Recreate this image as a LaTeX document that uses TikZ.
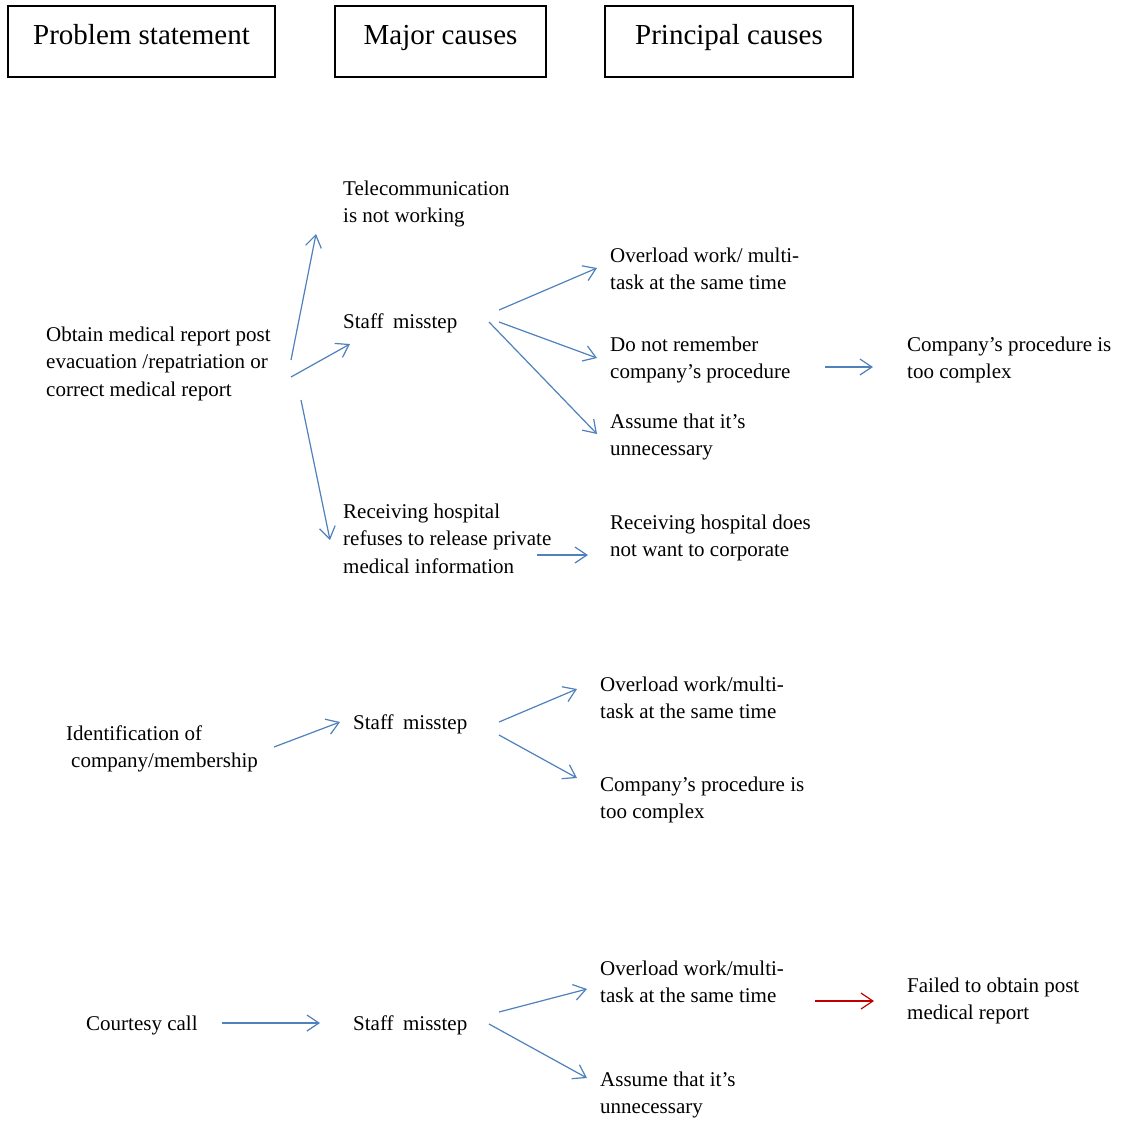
\documentclass[tikz,border=0pt]{standalone}
\usepackage{fontspec}
\setmainfont{Liberation Serif}
\usetikzlibrary{arrows.meta}
\definecolor{flowblue}{RGB}{79,129,189}
\definecolor{flowred}{RGB}{192,0,0}
\tikzset{
  headbox/.style={draw=black, line width=1.4pt, inner sep=0pt,
    font={\fontsize{29}{34}\selectfont}, text height=20pt, text depth=15pt},
  % positioned by the baseline of the last text line
  cause/.style={anchor=base west, align=left, inner sep=0pt,
    font={\fontsize{21}{27.5}\selectfont}},
  flow/.style={draw=flowblue, line width=1.2pt,
    -{Straight Barb[length=12pt,width=16pt,line width=1.2pt]}},
  badflow/.style={flow, draw=flowred}
}
\begin{document}
\begin{tikzpicture}[x=1pt,y=-1pt]
\path[use as bounding box, fill=white] (0,0) rectangle (1129,1120);

% column headings
\node[headbox, minimum width=267pt, minimum height=71pt] (hprob) at (141.5,41.5) {Problem statement};
\node[headbox, minimum width=211pt, minimum height=71pt] (hmajor) at (440.5,41.5) {Major causes};
\node[headbox, minimum width=248pt, minimum height=71pt] (hprin) at (729,41.5) {Principal causes};

% problem 1: medical report
\node[cause] (obtain) at (46,396) {Obtain medical report post\\evacuation /repatriation or\\correct medical report};
\node[cause] (telecom) at (343,222.5) {Telecommunication\\is not working};
\node[cause] (staffA) at (343,328) {Staff\hspace{0.45em}misstep};
\node[cause] (overA) at (610,289.5) {Overload work/ multi-\\task at the same time};
\node[cause] (remember) at (610,378.5) {Do not remember\\company’s procedure};
\node[cause] (assumeA) at (610,455.5) {Assume that it’s\\unnecessary};
\node[cause] (complexA) at (907,378.5) {Company’s procedure is\\too complex};
\node[cause] (refuse) at (343,573) {Receiving hospital\\refuses to release private\\medical information};
\node[cause] (nocoop) at (610,556.5) {Receiving hospital does\\not want to corporate};

% problem 2: identification
\node[cause] (ident) at (66,767.5) {Identification of\\\hspace{5pt}company/membership};
\node[cause] (staffB) at (353,729) {Staff\hspace{0.45em}misstep};
\node[cause] (overB) at (600,718.5) {Overload work/multi-\\task at the same time};
\node[cause] (complexB) at (600,818.5) {Company’s procedure is\\too complex};

% problem 3: courtesy call
\node[cause] (courtesy) at (86,1030) {Courtesy call};
\node[cause] (staffC) at (353,1030) {Staff\hspace{0.45em}misstep};
\node[cause] (overC) at (600,1002.5) {Overload work/multi-\\task at the same time};
\node[cause] (failed) at (907,1019.5) {Failed to obtain post\\medical report};
\node[cause] (assumeC) at (600,1113.5) {Assume that it’s\\unnecessary};

% arrow end points
\coordinate (o-t) at (291,360);  \coordinate (t-in) at (316,234);
\coordinate (o-s) at (291,377);  \coordinate (s-in) at (350,344);
\coordinate (o-r) at (301,400);  \coordinate (r-in) at (330,540);
\coordinate (sA-o) at (499,310); \coordinate (oA-in) at (597,268);
\coordinate (sA-d) at (499,322); \coordinate (d-in) at (597,358);
\coordinate (sA-a) at (489,322); \coordinate (aA-in) at (597,434);
\coordinate (d-c) at (825,367);  \coordinate (cA-in) at (873,367);
\coordinate (r-n) at (537,555);  \coordinate (n-in) at (588,555);
\coordinate (i-s) at (274,747);  \coordinate (sB-in) at (340,722);
\coordinate (sB-o) at (499,722); \coordinate (oB-in) at (577,689);
\coordinate (sB-c) at (499,735); \coordinate (cB-in) at (577,778);
\coordinate (c-s) at (222,1023); \coordinate (sC-in) at (320,1023);
\coordinate (sC-o) at (499,1012); \coordinate (oC-in) at (587,989);
\coordinate (sC-a) at (489,1024); \coordinate (aC-in) at (587,1078);
\coordinate (oC-f) at (815,1001); \coordinate (f-in) at (874,1001);

% connectors
\draw[flow] (o-t) -- (t-in);
\draw[flow] (o-s) -- (s-in);
\draw[flow] (o-r) -- (r-in);
\draw[flow] (sA-o) -- (oA-in);
\draw[flow] (sA-d) -- (d-in);
\draw[flow] (sA-a) -- (aA-in);
\draw[flow] (d-c) -- (cA-in);
\draw[flow] (r-n) -- (n-in);
\draw[flow] (i-s) -- (sB-in);
\draw[flow] (sB-o) -- (oB-in);
\draw[flow] (sB-c) -- (cB-in);
\draw[flow] (c-s) -- (sC-in);
\draw[flow] (sC-o) -- (oC-in);
\draw[flow] (sC-a) -- (aC-in);
\draw[badflow] (oC-f) -- (f-in);
\end{tikzpicture}
\end{document}
